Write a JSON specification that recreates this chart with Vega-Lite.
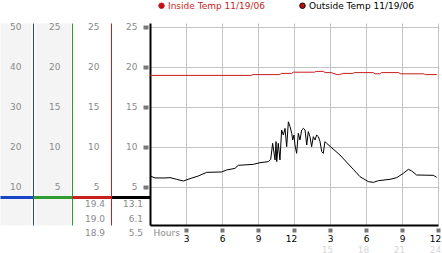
{
  "$schema": "https://vega.github.io/schema/vega-lite/v6.json",
  "width": 288,
  "height": 202,
  "autosize": {"type": "none"},
  "padding": {"left": 150, "top": 23, "right": 4, "bottom": 28},
  "config": {
    "font": "DejaVu Sans",
    "view": {"stroke": null},
    "axis": {"labelFont": "DejaVu Sans", "labelFontSize": 9, "titleFont": "DejaVu Sans", "labelFlush": false, "labelOverlap": false},
    "legend": {"labelFont": "DejaVu Sans", "labelFontSize": 9}
  },
  "datasets": {
    "temps": [
      {"s": "Inside", "h": 0, "t": 18.9}, {"s": "Inside", "h": 8.4, "t": 18.9}, {"s": "Inside", "h": 8.6, "t": 19.0},
      {"s": "Inside", "h": 10.8, "t": 19.0}, {"s": "Inside", "h": 10.95, "t": 19.15}, {"s": "Inside", "h": 11.8, "t": 19.15},
      {"s": "Inside", "h": 11.95, "t": 19.3}, {"s": "Inside", "h": 13.7, "t": 19.3}, {"s": "Inside", "h": 13.85, "t": 19.4},
      {"s": "Inside", "h": 14.45, "t": 19.4}, {"s": "Inside", "h": 14.6, "t": 19.25}, {"s": "Inside", "h": 15.1, "t": 19.25},
      {"s": "Inside", "h": 15.6, "t": 19.0}, {"s": "Inside", "h": 15.8, "t": 19.0}, {"s": "Inside", "h": 16.1, "t": 19.15},
      {"s": "Inside", "h": 16.9, "t": 19.15}, {"s": "Inside", "h": 17.05, "t": 19.25}, {"s": "Inside", "h": 18.6, "t": 19.25},
      {"s": "Inside", "h": 18.75, "t": 19.1}, {"s": "Inside", "h": 19.15, "t": 19.1}, {"s": "Inside", "h": 19.3, "t": 19.25},
      {"s": "Inside", "h": 20.7, "t": 19.25}, {"s": "Inside", "h": 20.9, "t": 19.1}, {"s": "Inside", "h": 22.8, "t": 19.1},
      {"s": "Inside", "h": 22.95, "t": 19.0}, {"s": "Inside", "h": 23.9, "t": 19.0},
      {"s": "Outside", "h": 0, "t": 6.33}, {"s": "Outside", "h": 0.42, "t": 6.08}, {"s": "Outside", "h": 1.25, "t": 6.08},
      {"s": "Outside", "h": 1.67, "t": 6.12}, {"s": "Outside", "h": 2.22, "t": 5.91}, {"s": "Outside", "h": 2.78, "t": 5.7},
      {"s": "Outside", "h": 3.33, "t": 5.99}, {"s": "Outside", "h": 4.03, "t": 6.33}, {"s": "Outside", "h": 4.72, "t": 6.78},
      {"s": "Outside", "h": 5.97, "t": 6.83}, {"s": "Outside", "h": 6.39, "t": 7.08}, {"s": "Outside", "h": 7.08, "t": 7.28},
      {"s": "Outside", "h": 7.36, "t": 7.66}, {"s": "Outside", "h": 8.61, "t": 7.78}, {"s": "Outside", "h": 9.17, "t": 7.99},
      {"s": "Outside", "h": 9.86, "t": 8.12}, {"s": "Outside", "h": 10.06, "t": 8.41}, {"s": "Outside", "h": 10.22, "t": 10.41},
      {"s": "Outside", "h": 10.42, "t": 8.33}, {"s": "Outside", "h": 10.5, "t": 10.62}, {"s": "Outside", "h": 10.56, "t": 8.12},
      {"s": "Outside", "h": 10.69, "t": 10.41}, {"s": "Outside", "h": 10.83, "t": 8.33}, {"s": "Outside", "h": 10.97, "t": 12.08},
      {"s": "Outside", "h": 11.11, "t": 11.45}, {"s": "Outside", "h": 11.25, "t": 12.28}, {"s": "Outside", "h": 11.39, "t": 9.99},
      {"s": "Outside", "h": 11.53, "t": 13.1}, {"s": "Outside", "h": 11.67, "t": 12.49}, {"s": "Outside", "h": 11.81, "t": 11.66},
      {"s": "Outside", "h": 11.89, "t": 10.83}, {"s": "Outside", "h": 12.0, "t": 11.45}, {"s": "Outside", "h": 12.08, "t": 10.2},
      {"s": "Outside", "h": 12.22, "t": 9.16}, {"s": "Outside", "h": 12.36, "t": 11.66}, {"s": "Outside", "h": 12.5, "t": 10.83},
      {"s": "Outside", "h": 12.64, "t": 12.08}, {"s": "Outside", "h": 12.78, "t": 12.28}, {"s": "Outside", "h": 12.92, "t": 12.08},
      {"s": "Outside", "h": 13.06, "t": 10.2}, {"s": "Outside", "h": 13.19, "t": 11.87}, {"s": "Outside", "h": 13.33, "t": 11.24},
      {"s": "Outside", "h": 13.47, "t": 9.99}, {"s": "Outside", "h": 13.61, "t": 11.24}, {"s": "Outside", "h": 13.75, "t": 10.83},
      {"s": "Outside", "h": 13.89, "t": 11.45}, {"s": "Outside", "h": 14.03, "t": 11.24}, {"s": "Outside", "h": 14.17, "t": 10.62},
      {"s": "Outside", "h": 14.31, "t": 9.37}, {"s": "Outside", "h": 14.44, "t": 9.16}, {"s": "Outside", "h": 14.58, "t": 10.62},
      {"s": "Outside", "h": 14.72, "t": 10.41}, {"s": "Outside", "h": 15.83, "t": 8.95}, {"s": "Outside", "h": 16.94, "t": 7.16},
      {"s": "Outside", "h": 17.5, "t": 6.24}, {"s": "Outside", "h": 18.19, "t": 5.62}, {"s": "Outside", "h": 18.61, "t": 5.53},
      {"s": "Outside", "h": 19.03, "t": 5.74}, {"s": "Outside", "h": 20.0, "t": 5.91}, {"s": "Outside", "h": 20.56, "t": 6.12},
      {"s": "Outside", "h": 21.11, "t": 6.66}, {"s": "Outside", "h": 21.53, "t": 7.16}, {"s": "Outside", "h": 21.81, "t": 6.95},
      {"s": "Outside", "h": 22.22, "t": 6.45}, {"s": "Outside", "h": 23.61, "t": 6.41}, {"s": "Outside", "h": 23.89, "t": 6.16}
    ],
    "stats": [
      {"column": 3, "row": 1, "value": 19.4},
      {"column": 3, "row": 2, "value": 19.0},
      {"column": 3, "row": 3, "value": 18.9},
      {"column": 4, "row": 1, "value": 13.1},
      {"column": 4, "row": 2, "value": 6.1},
      {"column": 4, "row": 3, "value": 5.5}
    ]
  },
  "resolve": {"scale": {"x": "independent", "y": "independent", "color": "independent"}},
  "layer": [
    {
      "data": {"values": []},
      "mark": "point",
      "encoding": {
        "y": {"field": "v", "type": "quantitative", "scale": {"domain": [0.2, 25.45], "nice": false, "zero": false},
          "axis": {"orient": "left", "offset": 134.5, "domainColor": "#f4f4f4", "domainWidth": 31, "labels": false, "ticks": false, "grid": false, "title": null, "zindex": 0,
            "encode": {"domain": {"update": {"y": {"signal": "height + 12"}, "y2": {"value": -11}}}}}}
      }
    },
    {
      "data": {"values": []},
      "mark": "point",
      "encoding": {
        "y": {"field": "v", "type": "quantitative", "scale": {"domain": [0.2, 25.45], "nice": false, "zero": false},
          "axis": {"orient": "left", "offset": 97, "domainColor": "#f4f4f4", "domainWidth": 36, "labels": false, "ticks": false, "grid": false, "title": null, "zindex": 0,
            "encode": {"domain": {"update": {"y": {"signal": "height + 12"}, "y2": {"value": -11}}}}}}
      }
    },
    {
      "data": {"values": []},
      "mark": "point",
      "encoding": {
        "y": {"field": "v", "type": "quantitative", "scale": {"domain": [0.4, 50.9], "nice": false, "zero": false},
          "axis": {"orient": "left", "offset": 117, "domainColor": "#1b45c8", "domainWidth": 1,
            "values": [7.4, 10, 20, 30, 40, 50], "labelExpr": "datum.value < 9 ? '' : datum.label",
            "labelColor": "#8a8a8a", "labelPadding": -21,
            "tickSize": 33, "tickWidth": 3, "tickColor": "#1b45c8", "tickOpacity": {"expr": "datum.value < 9 ? 1 : 0"},
            "grid": false, "title": null, "zindex": 1,
            "encode": {"domain": {"update": {"y": {"signal": "height + 12"}, "y2": {"value": -11}}}}}}
      }
    },
    {
      "data": {"values": []},
      "mark": "point",
      "encoding": {
        "y": {"field": "v", "type": "quantitative", "scale": {"domain": [0.2, 25.45], "nice": false, "zero": false},
          "axis": {"orient": "left", "offset": 78, "domainColor": "#2e9c2e", "domainWidth": 1,
            "values": [3.7, 5, 10, 15, 20, 25], "labelExpr": "datum.value < 4 ? '' : datum.label",
            "labelColor": "#8a8a8a", "labelPadding": -27,
            "tickSize": 39, "tickWidth": 3, "tickColor": "#2e9c2e", "tickOpacity": {"expr": "datum.value < 4 ? 1 : 0"},
            "grid": false, "title": null, "zindex": 1,
            "encode": {"domain": {"update": {"y": {"signal": "height + 12"}, "y2": {"value": -11}}}}}}
      }
    },
    {
      "data": {"values": []},
      "mark": "point",
      "encoding": {
        "y": {"field": "v", "type": "quantitative", "scale": {"domain": [0.2, 25.45], "nice": false, "zero": false},
          "axis": {"orient": "left", "offset": 39, "domainColor": "#c81e1e", "domainWidth": 1,
            "values": [3.7, 5, 10, 15, 20, 25], "labelExpr": "datum.value < 4 ? '' : datum.label",
            "labelColor": "#8a8a8a", "labelPadding": -27,
            "tickSize": 39, "tickWidth": 3, "tickColor": "#c81e1e", "tickOpacity": {"expr": "datum.value < 4 ? 1 : 0"},
            "grid": false, "title": null, "zindex": 1,
            "encode": {"domain": {"update": {"y": {"signal": "height + 12"}, "y2": {"value": -11}}}}}}
      }
    },
    {
      "data": {"values": []},
      "mark": "point",
      "encoding": {
        "x": {"field": "h", "type": "quantitative", "scale": {"domain": [0, 24], "nice": false, "zero": false},
          "axis": {"orient": "bottom", "values": [15, 18, 21, 24], "labelColor": "#d6d6d6", "domain": false, "ticks": false,
            "grid": false, "labelPadding": 20, "labelOffset": -3, "title": null, "zindex": 1}}
      }
    },
    {
      "data": {"name": "stats"},
      "mark": {"type": "text", "align": "right", "baseline": "middle", "fontSize": 9, "color": "#8a8a8a"},
      "encoding": {
        "x": {"field": "column", "type": "quantitative", "scale": {"domain": [4.184, 11.763], "nice": false, "zero": false}, "axis": null},
        "y": {"field": "row", "type": "quantitative", "scale": {"domain": [-11.768, 2.457], "reverse": true, "nice": false, "zero": false}, "axis": null},
        "text": {"field": "value", "type": "quantitative", "format": ".1f"}
      }
    },
    {
      "data": {"name": "temps"},
      "mark": {"type": "line", "strokeWidth": 1},
      "encoding": {
        "x": {"field": "h", "type": "quantitative", "scale": {"domain": [0, 24], "nice": false, "zero": false},
          "axis": {"orient": "bottom", "values": [3, 6, 9, 12, 15, 18, 21, 24],
            "labelExpr": "datum.value % 12 == 0 ? '12' : '' + (datum.value % 12)",
            "labelColor": "#000000", "labelPadding": 2,
            "labelOffset": {"expr": "datum.value % 12 == 0 ? -3 : 0"},
            "domainColor": "#000000", "domainWidth": 2,
            "tickSize": 7, "tickWidth": 4, "tickColor": "#777777", "tickDash": [0, 3, 4, 100],
            "grid": true, "gridColor": "#c4c4c4",
            "title": "Hours", "titleColor": "#8a8a8a", "titleFontSize": 9, "titleFontWeight": "normal",
            "titleAnchor": "start", "titleAlign": "left", "titleBaseline": "top", "titleX": 3, "titleY": 3, "zindex": 0}},
        "y": {"field": "t", "type": "quantitative", "scale": {"domain": [0.2, 25.45], "nice": false, "zero": false},
          "axis": {"orient": "left", "offset": 0, "domainColor": "#000000", "domainWidth": 2,
            "values": [3.7, 5, 10, 15, 20, 25], "labelExpr": "datum.value < 4 ? '' : datum.label",
            "labelColor": "#8a8a8a", "labelPadding": -26,
            "tickSize": 39,
            "tickWidth": {"expr": "datum.value < 4 ? 3 : 4"},
            "tickColor": {"expr": "datum.value < 4 ? '#000000' : '#777777'"},
            "tickDash": {"expr": "datum.value < 4 ? [] : [0, 2, 5, 100]"},
            "grid": true, "gridColor": "#c4c4c4", "gridOpacity": {"expr": "datum.value < 4 ? 0 : 1"},
            "title": null, "zindex": 0,
            "encode": {"domain": {"update": {"y2": {"value": -6}}}}}},
        "color": {"field": "s", "type": "nominal",
          "scale": {"domain": ["Inside", "Outside"], "range": ["#c81e1e", "#000000"]},
          "legend": {"orient": "none", "legendX": 7, "legendY": -22, "direction": "horizontal", "title": null,
            "labelExpr": "datum.label + ' Temp 11/19/06'", "labelFontSize": 9, "labelOffset": 2,
            "symbolType": "circle", "symbolSize": 30, "columnPadding": 32, "padding": 0,
            "encode": {
              "labels": {"update": {"fill": {"signal": "datum.value === 'Inside' ? '#c81e1e' : '#000000'"}}},
              "symbols": {"update": {"fill": {"value": "#c01010"}, "stroke": {"value": "#500000"}, "strokeWidth": {"value": 1}, "opacity": {"value": 1}}}
            }}}
      }
    }
  ]
}
